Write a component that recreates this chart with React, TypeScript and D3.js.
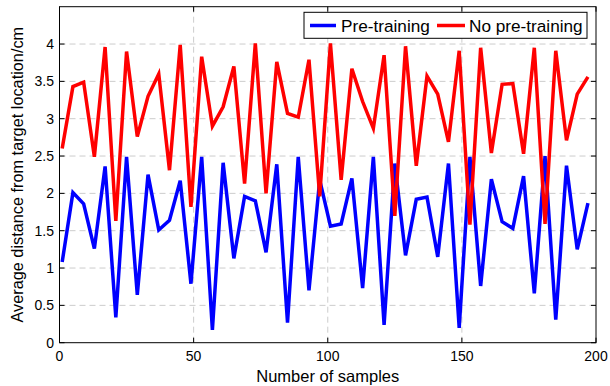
import * as d3 from "d3";

const xs = d3.range(1, 198, 4);

const preTraining = [
  1.08, 2.01, 1.86, 1.26, 2.36, 0.34, 2.49, 0.64, 2.25, 1.51,
  1.64, 2.17, 0.79, 2.49, 0.17, 2.41, 1.13, 1.96, 1.9, 1.21,
  2.39, 0.27, 2.49, 0.7, 2.18, 1.56, 1.59, 2.2, 0.73, 2.49,
  0.24, 2.4, 1.17, 1.92, 1.95, 1.15, 2.4, 0.2, 2.49, 0.76,
  2.19, 1.62, 1.53, 2.23, 0.66, 2.5, 0.31, 2.37, 1.25, 1.87,
];

const noPreTraining = [
  2.6, 3.43, 3.49, 2.49, 3.96, 1.63, 3.9, 2.76, 3.3, 3.6,
  2.31, 3.99, 1.82, 3.83, 2.9, 3.16, 3.7, 2.13, 4.01, 2.0,
  3.76, 3.07, 3.02, 3.79, 1.96, 4.01, 2.18, 3.67, 3.23, 2.87,
  3.85, 1.7, 3.97, 2.37, 3.57, 3.33, 2.69, 3.91, 1.58, 3.95,
  2.54, 3.46, 3.47, 2.53, 3.95, 1.59, 3.91, 2.71, 3.33, 3.56,
];

const xTicks = [0, 50, 100, 150, 200];
const yTicks = [0, 0.5, 1, 1.5, 2, 2.5, 3, 3.5, 4];

const left = 59.5;
const right = 596;
const top = 6.7;
const bottom = 342.7;
const font = "Arial, 'Liberation Sans', sans-serif";

export default function App() {
  const x = d3.scaleLinear().domain([0, 200]).range([left, right]);
  const y = d3.scaleLinear().domain([0, 4.5]).range([bottom, top]);
  const line = d3
    .line<number>()
    .x((_, i) => x(xs[i]))
    .y((d) => y(d));

  return (
    <svg
      width={610}
      height={386}
      style={{ position: "absolute", left: 0, top: 0, background: "#fff" }}
      fontFamily={font}
    >
      {/* grid */}
      {yTicks.slice(1).map((t) => (
        <line
          key={"gy" + t}
          x1={left}
          x2={right}
          y1={y(t)}
          y2={y(t)}
          stroke="#cccccc"
          strokeDasharray="6,4"
        />
      ))}
      {xTicks.slice(1, -1).map((t) => (
        <line
          key={"gx" + t}
          x1={x(t)}
          x2={x(t)}
          y1={top}
          y2={bottom}
          stroke="#cccccc"
          strokeDasharray="6,4"
        />
      ))}

      <path
        d={line(preTraining) || ""}
        fill="none"
        stroke="#0000ff"
        strokeWidth={3.5}
        strokeLinejoin="miter"
      />
      <path
        d={line(noPreTraining) || ""}
        fill="none"
        stroke="#ff0000"
        strokeWidth={3.5}
        strokeLinejoin="miter"
      />

      {/* box and ticks */}
      <rect
        x={left}
        y={top}
        width={right - left}
        height={bottom - top}
        fill="none"
        stroke="#000"
        strokeWidth={1}
      />
      {xTicks.map((t) => (
        <g key={"tx" + t}>
          <line x1={x(t)} x2={x(t)} y1={bottom} y2={bottom - 5} stroke="#000" />
          <line x1={x(t)} x2={x(t)} y1={top} y2={top + 5} stroke="#000" />
          <text
            x={x(t)}
            y={361}
            fontSize={14}
            textAnchor="middle"
            fill="#000"
          >
            {t}
          </text>
        </g>
      ))}
      {yTicks.map((t) => (
        <g key={"ty" + t}>
          <line x1={left} x2={left + 5} y1={y(t)} y2={y(t)} stroke="#000" />
          <line x1={right} x2={right - 5} y1={y(t)} y2={y(t)} stroke="#000" />
          <text
            x={54}
            y={y(t) + 5}
            fontSize={14}
            textAnchor="end"
            fill="#000"
          >
            {t}
          </text>
        </g>
      ))}

      <text
        x={(left + right) / 2}
        y={382}
        fontSize={16.5}
        textAnchor="middle"
        fill="#000"
      >
        Number of samples
      </text>
      <text
        transform={`translate(23,${(top + bottom) / 2}) rotate(-90)`}
        fontSize={16.3}
        textAnchor="middle"
        fill="#000"
      >
        Average distance from target location/cm
      </text>

      {/* legend */}
      <rect x={304} y={12.3} width={283} height={26} fill="#fff" stroke="#000" />
      <line x1={310} x2={336} y1={25.5} y2={25.5} stroke="#0000ff" strokeWidth={3.5} />
      <text x={341} y={31.5} fontSize={17.2} fill="#000">
        Pre-training
      </text>
      <line x1={437} x2={465} y1={25.5} y2={25.5} stroke="#ff0000" strokeWidth={3.5} />
      <text x={469} y={31.5} fontSize={17.2} fill="#000">
        No pre-training
      </text>
    </svg>
  );
}
